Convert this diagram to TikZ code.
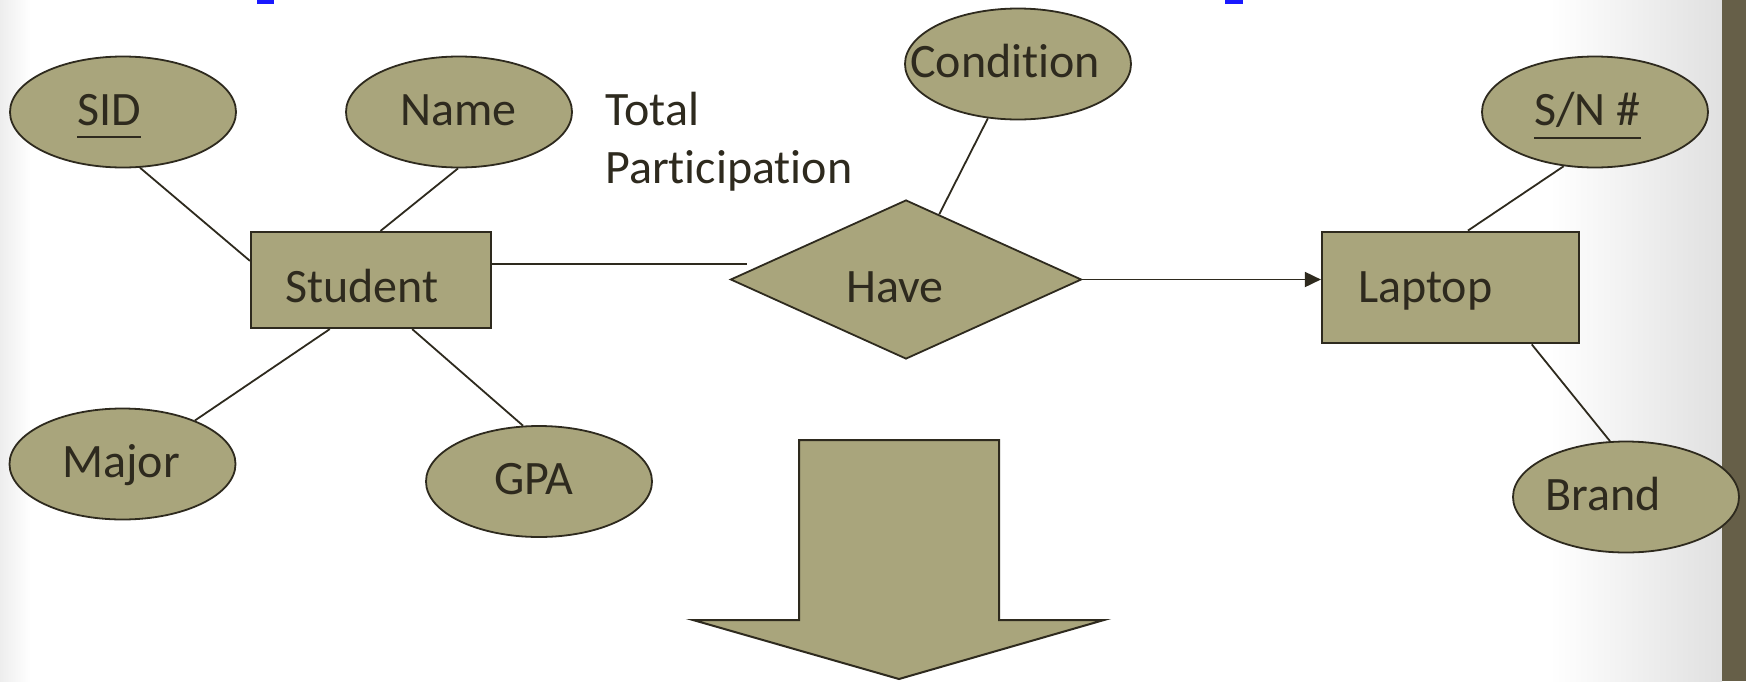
\documentclass[tikz,border=0pt]{standalone}
\usepackage{fontspec}
\setmainfont{Carlito}[Ligatures={NoCommon,NoContextual}]
\usetikzlibrary{shapes.geometric,arrows.meta}

\definecolor{olive}{RGB}{169,165,124}
\definecolor{ink}{RGB}{46,42,30}
\definecolor{sidebar}{RGB}{102,95,72}
\definecolor{linkblue}{RGB}{25,25,255}

% key attribute: text with a rule drawn under it
\newcommand\keyattr[1]{\setbox0=\hbox{#1}\rlap{\raisebox{-13pt}{\rule{\wd0}{2pt}}}\box0}

\begin{document}
\begin{tikzpicture}[x=1pt,y=-1pt,
  attr/.style={ellipse,draw=ink,fill=olive,line width=1.8pt,
    minimum width=226pt,minimum height=111pt,inner sep=0pt},
  ent/.style={rectangle,draw=ink,fill=olive,line width=2.2pt,inner sep=0pt},
  rel/.style={diamond,draw=ink,fill=olive,line width=1.8pt,inner sep=0pt,
    minimum width=351pt,minimum height=159pt},
  txt/.style={inner sep=0pt,anchor=base west,text=ink,
    font=\fontsize{48}{58}\selectfont},
  link/.style={draw=ink,line width=1.8pt}]

% page background
\fill[white] (0,0) rectangle (1746,681);
\useasboundingbox (0,0) rectangle (1746,681);
\shade[left color=black!7,right color=white] (0,0) rectangle (30,681);
\shade[left color=white,right color=black!12] (1550,0) rectangle (1722,681);
\fill[sidebar] (1722,0) rectangle (1746,681);
\fill[linkblue] (257,0) rectangle (274,4);
\fill[linkblue] (1225,0) rectangle (1243,4);

% attributes
\node[attr] (sid)   at (123,112)   {};
\node[attr] (name)  at (459,112)   {};
\node[attr] (cond)  at (1018,64)   {};
\node[attr] (sn)    at (1595,112)  {};
\node[attr] (major) at (122.5,464) {};
\node[attr] (gpa)   at (539,481.5) {};
\node[attr] (brand) at (1626,497)  {};

% entities and relationship
\node[ent,minimum width=240pt,minimum height=96pt]    (stu)  at (371,280)     {};
\node[ent,minimum width=257pt,minimum height=111.6pt] (lap)  at (1450.5,287.5) {};
\node[rel] (have) at (906,279.5) {};

% labels
\node[txt] (sidt)   at (77,125)    {\keyattr{SID}};
\node[txt] (namet)  at (400,125)   {Name};
\node[txt] (condt)  at (910,77.5)  {Condition};
\node[txt] (snt)    at (1534,125.5){\keyattr{S/N \#}};
\node[txt] (tott)   at (605,125)   {Total};
\node[txt] (partt)  at (605,183)   {Participation};
\node[txt] (stut)   at (285,302)   {Student};
\node[txt] (havet)  at (846,302)   {Have};
\node[txt] (lapt)   at (1358,302)  {Laptop};
\node[txt] (majort) at (62,477)    {Major};
\node[txt] (gpat)   at (494,494.5) {GPA};
\node[txt] (brandt) at (1545,510)  {Brand};

% connectors
\draw[link] (sid.-73) -- (stu.171.5);
\draw[link] (name.-91) -- (stu.79.4);
\draw[link] (major.31.7) -- (stu.-130.8);
\draw[link] (gpa.106.2) -- (stu.-50.2);
\draw[link] (cond.-119.8) -- (have.63.3);
\draw[link] (lap.73.5) -- (sn.-120.5);
\draw[link] (lap.-35.6) -- (brand.106);
\coordinate (tpend) at (746.7,264);
\draw[link] (tpend -| stu.east) -- (tpend);
\draw[link,-{Triangle[length=16pt,width=15pt]}] (have.east) -- (have.east -| lap.west);

% block arrow
\draw[draw=ink,fill=olive,line width=2pt,line join=miter]
  (799,440) -- (999,440) -- (999,620) -- (1104,620) -- (899,679)
  -- (693,620) -- (799,620) -- cycle;
\end{tikzpicture}
\end{document}
